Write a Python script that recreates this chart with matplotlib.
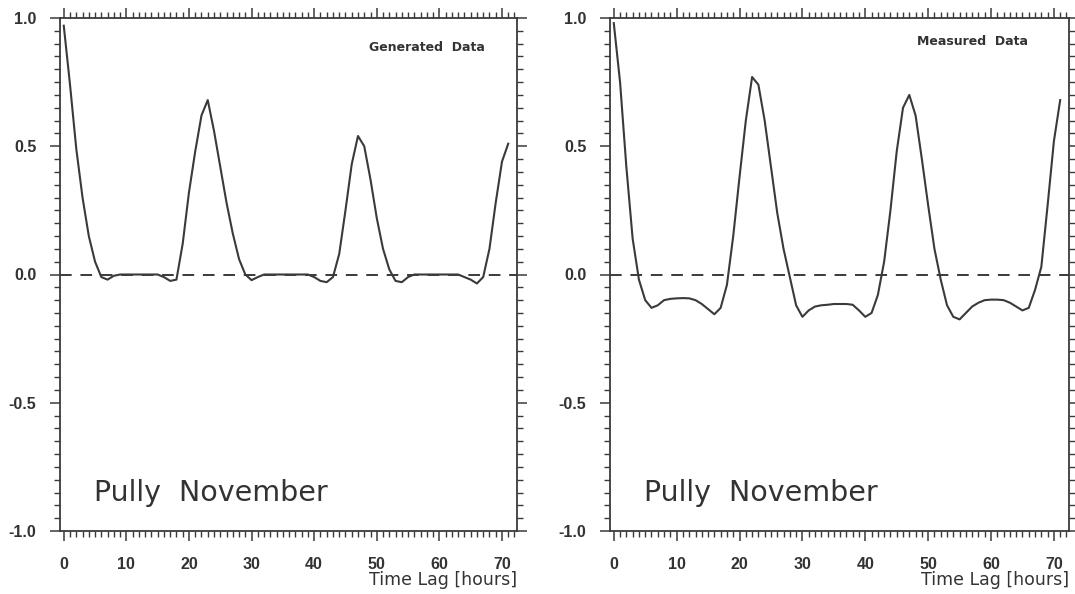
import matplotlib
matplotlib.use("Agg")
import matplotlib.pyplot as plt
from matplotlib.ticker import MultipleLocator

plt.rcParams['font.family'] = ['Liberation Sans', 'DejaVu Sans']

lag_hours = list(range(0, 72))

generated = [0.97, 0.74, 0.49, 0.30, 0.15, 0.05, -0.01, -0.02, -0.005, 0.0,
             0.0, 0.0, 0.0, 0.0, 0.0, 0.0, -0.01, -0.025, -0.02, 0.12,
             0.32, 0.48, 0.62, 0.68, 0.56, 0.42, 0.28, 0.16, 0.06, 0.0,
             -0.022, -0.01, 0.0, 0.0, 0.0, 0.0, 0.0, 0.0, 0.0, 0.0,
             -0.01, -0.025, -0.03, -0.01, 0.08, 0.25, 0.43, 0.54, 0.50, 0.37,
             0.22, 0.10, 0.02, -0.025, -0.03, -0.01, 0.0, 0.0, 0.0, 0.0,
             0.0, 0.0, 0.0, 0.0, -0.01, -0.02, -0.035, -0.01, 0.10, 0.28,
             0.44, 0.51]

measured = [0.98, 0.75, 0.42, 0.14, -0.02, -0.10, -0.13, -0.12, -0.10, -0.095,
            -0.093, -0.092, -0.093, -0.10, -0.115, -0.135, -0.155, -0.13, -0.04, 0.15,
            0.38, 0.60, 0.77, 0.74, 0.60, 0.42, 0.24, 0.10, -0.01, -0.12,
            -0.165, -0.14, -0.125, -0.12, -0.118, -0.115, -0.115, -0.115, -0.118, -0.14,
            -0.165, -0.15, -0.08, 0.05, 0.25, 0.48, 0.65, 0.70, 0.62, 0.45,
            0.27, 0.10, -0.02, -0.12, -0.165, -0.175, -0.15, -0.125, -0.11, -0.10,
            -0.098, -0.098, -0.10, -0.11, -0.125, -0.14, -0.13, -0.06, 0.03, 0.27,
            0.52, 0.68]

x_ticks = [0, 10, 20, 30, 40, 50, 60, 70]
y_ticks = [-1.0, -0.5, 0.0, 0.5, 1.0]
y_ticklabels = ["-1.0", "-0.5", "0.0", "0.5", "1.0"]
panel_notes = ["Generated  Data", "Measured  Data"]
site_label = "Pully  November"
x_label = "Time Lag [hours]"

ink = "#3a3a3a"
txt = "#333333"

fig = plt.figure(figsize=(10.75, 5.94), dpi=100)
fig.patch.set_facecolor("white")

rects = [[60/1075, 63/594, 457/1075, 513/594],
         [610/1075, 63/594, 459/1075, 513/594]]
series = [generated, measured]
note_x = [0.93, 0.91]
note_y = [0.943, 0.955]

for i in range(2):
    ax = fig.add_axes(rects[i])
    ax.plot(lag_hours, series[i], color=ink, lw=1.5)
    ax.axhline(0, color=ink, lw=1.4, ls=(0, (6, 4.5)))
    ax.set_xlim(-0.6, 72.4)
    ax.set_ylim(-1.0, 1.0)
    for s in ax.spines.values():
        s.set_color(ink)
        s.set_linewidth(1.3)
    ax.set_xticks(x_ticks)
    ax.set_yticks(y_ticks)
    ax.set_yticklabels(y_ticklabels)
    ax.xaxis.set_minor_locator(MultipleLocator(1))
    ax.yaxis.set_minor_locator(MultipleLocator(0.05))
    ax.tick_params(which='both', direction='out', colors=ink,
                   top=True, right=True, labeltop=False, labelright=False)
    ax.tick_params(which='major', length=7, width=1.1)
    ax.tick_params(which='minor', length=4, width=1.0)
    ax.tick_params(axis='x', which='major', pad=12)
    ax.tick_params(axis='y', which='major', pad=10)
    for lab in ax.get_xticklabels() + ax.get_yticklabels():
        lab.set_fontsize(11.5)
        lab.set_fontweight('bold')
        lab.set_color(txt)
    ax.text(note_x[i], note_y[i], panel_notes[i], transform=ax.transAxes, ha='right',
            va='center', fontsize=9, fontweight='bold', color=txt,
            family='DejaVu Sans')
    ax.text(0.075, 0.075, site_label, transform=ax.transAxes, ha='left',
            va='center', fontsize=20.5, color=txt, family='DejaVu Sans')
    ax.text(1.0, -0.095, x_label, transform=ax.transAxes, ha='right',
            va='center', fontsize=12.5, color=txt, family='DejaVu Sans')

fig.savefig("out.png", dpi=100, facecolor="white")
